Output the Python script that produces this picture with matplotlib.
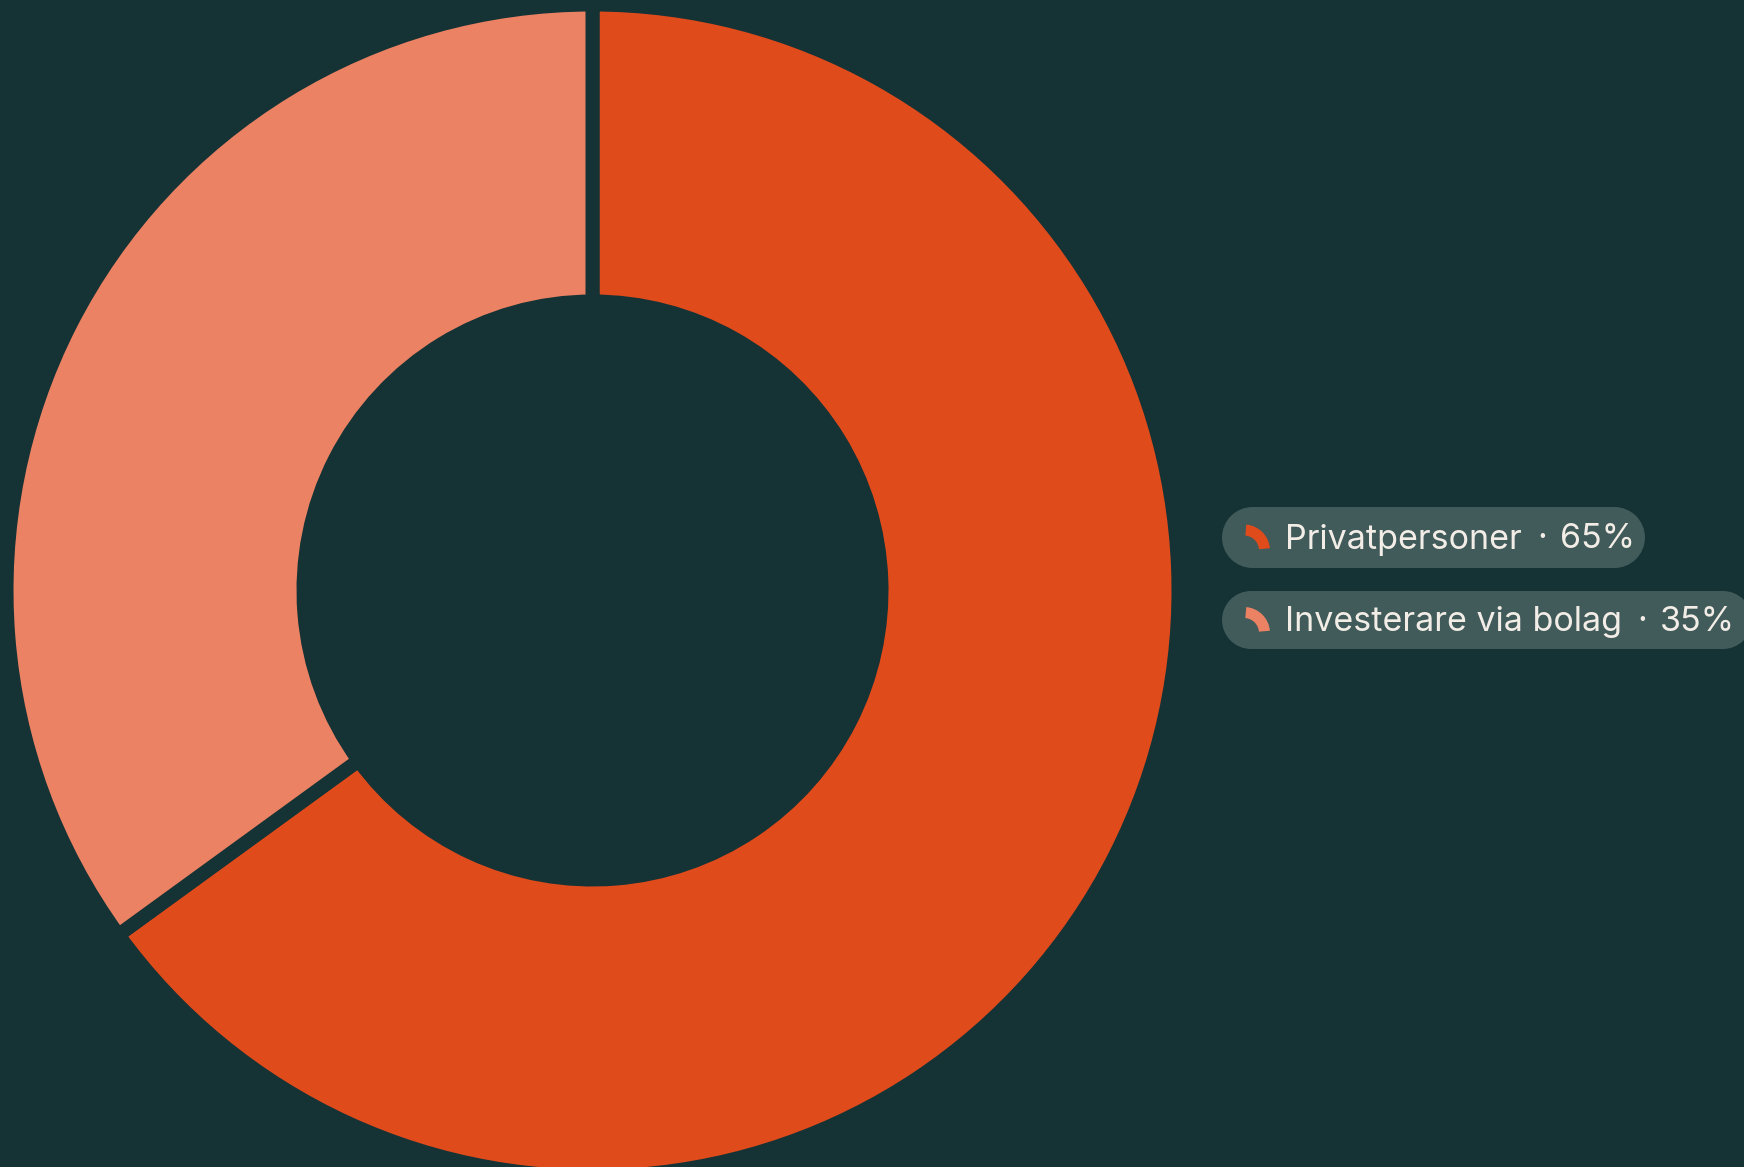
import matplotlib
matplotlib.use("Agg")
import matplotlib.pyplot as plt
from matplotlib.patches import Rectangle, Circle, Wedge

# data
labels = ["Privatpersoner", "Investerare via bolag"]
shares = [65, 35]
colors = ["#E04B1C", "#EC8264"]

BG = "#153234"
PILL = "#415A5A"
TEXT = "#F2EDE6"

W, H = 1744, 1167
DPI = 100

fig = plt.figure(figsize=(W / DPI, H / DPI), dpi=DPI, facecolor=BG)
ax = fig.add_axes([0, 0, 1, 1])
ax.set_facecolor(BG)

# donut; edge in background colour makes the gap between slices
gap_px = 14
gap_pt = gap_px * 72 / DPI
cx, cy = 592.5, H - 590.5
r_out = 579 + gap_px / 2
r_in = 296 - gap_px / 2
ax.pie(shares, colors=colors, startangle=90, counterclock=False,
       center=(cx, cy), radius=r_out, frame=True,
       wedgeprops=dict(width=r_out - r_in, edgecolor=BG, linewidth=gap_pt,
                       joinstyle="round"))
ax.set_xlim(0, W)
ax.set_ylim(0, H)
ax.set_aspect("equal")
ax.axis("off")

# legend pills
font = dict(fontsize=24.5, family=["Inter", "DejaVu Sans"], color=TEXT)
pills = [(507, 568, 1645), (591, 649, 1752)]
fig.canvas.draw()
renderer = fig.canvas.get_renderer()
inv = ax.transData.inverted()
for (top, bot, right), lab, val, col in zip(pills, labels, shares, colors):
    h = bot - top
    r = h / 2
    x0 = 1222
    yc = H - (top + bot) / 2
    ax.add_patch(Rectangle((x0 + r, yc - r), right - x0 - h, h,
                           facecolor=PILL, edgecolor="none"))
    ax.add_patch(Circle((x0 + r, yc), r, facecolor=PILL, edgecolor="none"))
    ax.add_patch(Circle((right - r, yc), r, facecolor=PILL, edgecolor="none"))
    ax.add_patch(Wedge((1244, yc - 13), 26, 5, 85, width=11,
                       facecolor=col, edgecolor="none"))
    base = yc - 11
    t = ax.text(1285, base, lab, va="baseline", ha="left", **font)
    bb = t.get_window_extent(renderer)
    x_end = inv.transform((bb.x1, bb.y0))[0]
    dot_x = x_end + 20
    ax.text(dot_x, base, "\u00b7", va="baseline", ha="center", **font)
    ax.text(dot_x + 18, base, f"{val}%", va="baseline", ha="left", **font)

fig.savefig("out.png", dpi=DPI, facecolor=BG)
